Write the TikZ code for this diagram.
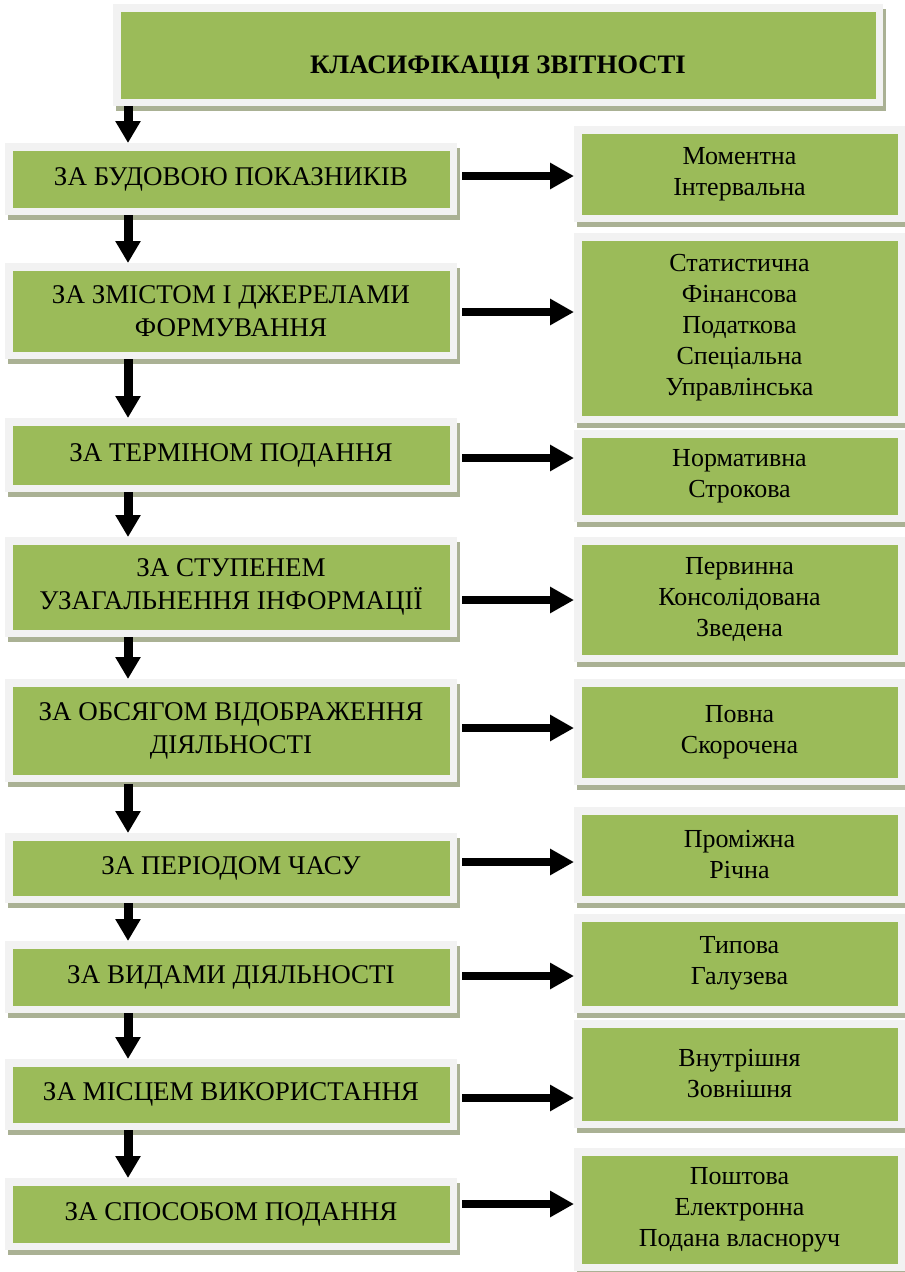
\documentclass[tikz,border=0pt]{standalone}
\usepackage{fontspec}
\setmainfont{Liberation Serif}
\usetikzlibrary{arrows.meta,backgrounds}
\definecolor{boxgreen}{HTML}{9BBB59}
\definecolor{boxrim}{HTML}{F2F2F2}
\definecolor{boxshadow}{HTML}{AAB194}
\tikzset{
  box/.style={rectangle, fill=boxgreen, draw=boxrim, line width=7.5pt, inner sep=0pt, align=center, text=black},
  titlebox/.style={box, minimum width=762.5pt, minimum height=94.5pt},
  titletext/.style={font=\bfseries\fontsize{26.7}{30}\selectfont, yshift=-13pt, inner sep=0pt},
  lbox/.style={box, minimum width=444.5pt, font=\fontsize{27}{33}\selectfont},
  rbox/.style={box, minimum width=323.5pt, font=\fontsize{26}{31}\selectfont},
  harrow/.style={line width=8pt, shorten <=5pt, -{Triangle[length=24pt,width=25pt]}},
  varrow/.style={line width=9pt, -{Triangle[length=22pt,width=24pt]}},
  boxshade/.style={fill=boxshadow},
}
\begin{document}
\begin{tikzpicture}[x=1pt,y=-1pt]
\useasboundingbox (0,0) rectangle (905,1272);
% title
\node[titlebox, label={[titletext]center:КЛАСИФІКАЦІЯ ЗВІТНОСТІ}] (T) at (498,55) {};
% left column
\node[lbox, minimum height=64.5pt] (L1) at (231,179) {ЗА БУДОВОЮ ПОКАЗНИКІВ};
\node[lbox, minimum height=88.5pt] (L2) at (231,311) {ЗА ЗМІСТОМ І ДЖЕРЕЛАМИ\\ФОРМУВАННЯ};
\node[lbox, minimum height=66.5pt] (L3) at (231,455) {ЗА ТЕРМІНОМ ПОДАННЯ};
\node[lbox, minimum height=92.5pt] (L4) at (231,587) {ЗА СТУПЕНЕМ\\УЗАГАЛЬНЕННЯ ІНФОРМАЦІЇ};
\node[lbox, minimum height=95.5pt] (L5) at (231,730.5) {ЗА ОБСЯГОМ ВІДОБРАЖЕННЯ\\ДІЯЛЬНОСТІ};
\node[lbox, minimum height=62.5pt] (L6) at (231,868) {ЗА ПЕРІОДОМ ЧАСУ};
\node[lbox, minimum height=64.5pt] (L7) at (231,977) {ЗА ВИДАМИ ДІЯЛЬНОСТІ};
\node[lbox, minimum height=63.5pt] (L8) at (231,1094.5) {ЗА МІСЦЕМ ВИКОРИСТАННЯ};
\node[lbox, minimum height=64.5pt] (L9) at (231,1214) {ЗА СПОСОБОМ ПОДАННЯ};
% right column
\node[rbox, minimum height=88.5pt] (R1) at (739.5,174) {Моментна\\Інтервальна};
\node[rbox, minimum height=182.5pt] (R2) at (739.5,328) {Статистична\\Фінансова\\Податкова\\Спеціальна\\Управлінська};
\node[rbox, minimum height=84.5pt] (R3) at (739.5,476) {Нормативна\\Строкова};
\node[rbox, minimum height=117.5pt] (R4) at (739.5,599.5) {Первинна\\Консолідована\\Зведена};
\node[rbox, minimum height=98.5pt] (R5) at (739.5,732) {Повна\\Скорочена};
\node[rbox, minimum height=88.5pt] (R6) at (739.5,855) {Проміжна\\Річна};
\node[rbox, minimum height=91.5pt] (R7) at (739.5,963.5) {Типова\\Галузева};
\node[rbox, minimum height=100.5pt] (R8) at (739.5,1074) {Внутрішня\\Зовнішня};
\node[rbox, minimum height=115.5pt] (R9) at (739.5,1209.5) {Поштова\\Електронна\\Подана власноруч};
% shadows
\begin{scope}[on background layer]
\foreach \n in {T,L1,L2,L3,L4,L5,L6,L7,L8,L9,R1,R2,R3,R4,R5,R6,R7,R8,R9}{
  \fill[boxshade] ([shift={(3pt,-5pt)}]\n.south west) rectangle ([shift={(3pt,-5pt)}]\n.north east);
}
\end{scope}
% vertical connectors
\coordinate (vx) at (128,0);
\draw[varrow] (vx |- T.south) -- (vx |- L1.north);
\draw[varrow] (vx |- L1.south) -- (vx |- L2.north);
\draw[varrow] (vx |- L2.south) -- (vx |- L3.north);
\draw[varrow] (vx |- L3.south) -- (vx |- L4.north);
\draw[varrow] (vx |- L4.south) -- (vx |- L5.north);
\draw[varrow] ([yshift=-2pt]vx |- L5.south) -- (vx |- L6.north);
\draw[varrow] (vx |- L6.south) -- (vx |- L7.north);
\draw[varrow] (vx |- L7.south) -- (vx |- L8.north);
\draw[varrow] (vx |- L8.south) -- (vx |- L9.north);
% horizontal connectors
\coordinate (h1) at (0,176);
\coordinate (h2) at (0,312);
\coordinate (h3) at (0,458);
\coordinate (h4) at (0,600);
\coordinate (h5) at (0,728);
\coordinate (h6) at (0,862);
\coordinate (h7) at (0,976);
\coordinate (h8) at (0,1098);
\coordinate (h9) at (0,1204);
\draw[harrow] (L1.east |- h1) -- (R1.west |- h1);
\draw[harrow] (L2.east |- h2) -- (R2.west |- h2);
\draw[harrow] (L3.east |- h3) -- (R3.west |- h3);
\draw[harrow] (L4.east |- h4) -- (R4.west |- h4);
\draw[harrow] (L5.east |- h5) -- (R5.west |- h5);
\draw[harrow] (L6.east |- h6) -- (R6.west |- h6);
\draw[harrow] (L7.east |- h7) -- (R7.west |- h7);
\draw[harrow] (L8.east |- h8) -- (R8.west |- h8);
\draw[harrow] (L9.east |- h9) -- (R9.west |- h9);
\end{tikzpicture}
\end{document}
